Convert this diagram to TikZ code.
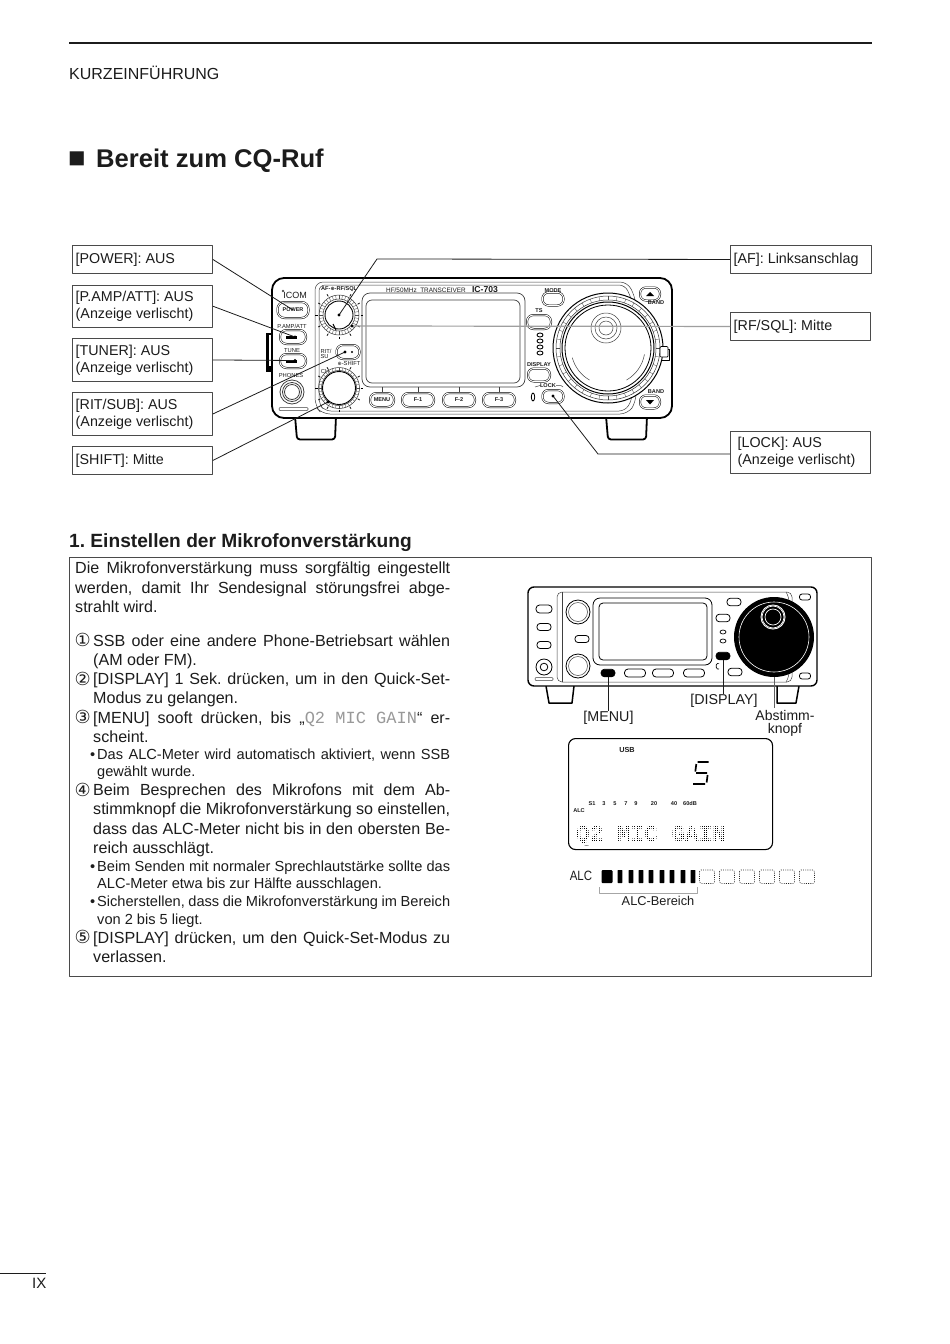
\documentclass[tikz,border=0pt]{standalone}
\usepackage{fontspec}
\setmainfont{Liberation Sans}
\setmonofont{Liberation Mono}
\newfontfamily\circfont{DejaVu Sans}
\usetikzlibrary{calc}
\definecolor{ink}{HTML}{1C1C1C}
\definecolor{boxln}{HTML}{4A4A4A}
\newcount\tlc
\frenchspacing
\newcommand{\fsz}[1]{\fontsize{#1}{#1}\selectfont}
\newcommand{\jl}[4][16.1]{\global\advance\tlc by 1 \node[txt] (t\the\tlc) at (#2,#3) {\fsz{#1}\frenchspacing\makebox[\dimexpr450pt-#2pt\relax][s]{#4}};}
\newcommand{\pl}[4][16.1]{\global\advance\tlc by 1 \node[txt] (t\the\tlc) at (#2,#3) {\fsz{#1}#4};}
\newcommand{\btn}[6][btn]{\node[#1,minimum width=#5pt,minimum height=#6pt,rounded corners={min(#6/2-0.5,7)*1pt}] (#2) at (#3,#4) {};}
\newcommand{\callout}[6]{\node[cbox,minimum width=#4pt,minimum height=#5pt,anchor=north west] (#1) at (#2,#3) {};
  \node[lab,anchor=west,align=left] (#1txt) at ($(#1.west)+(3.5,0)$) {#6};}
% knob ring: centre x,y; inner and outer radius
\newcommand{\kring}[4]{\foreach \b in {0,10,...,350} {\draw[black!70,line width=0.35pt] ($(#1,#2)+(\b:#3)$) -- ($(#1,#2)+(\b:#4)$);}
  \draw[black!80,line width=0.5pt] (#1,#2) circle (#3);\draw[black!80,line width=0.5pt] (#1,#2) circle (#4);}
\begin{document}
\begin{tikzpicture}[x=1pt,y=-1pt,line join=round,
  txt/.style={anchor=base west,inner sep=0pt,text=ink},
  lab/.style={inner sep=0pt,text=ink,font=\fsz{14.3},align=left},
  cbox/.style={draw=boxln,line width=0.9pt,fill=white,inner sep=0pt},
  tiny/.style={inner sep=0pt,text=ink,font=\bfseries\fsz{5.6}},
  btn/.style={draw=black,line width=0.5pt,double=white,double distance=1pt,fill=white,inner sep=0pt},
  sbtn/.style={draw=black,line width=0.8pt,fill=white,inner sep=0pt},
  bbtn/.style={draw=black,line width=0.6pt,fill=black,inner sep=0pt},
  lead/.style={draw=ink,line width=0.8pt},
  graylead/.style={draw=gray!75,line width=1.2pt},
  tick/.style={draw=black,line width=0.7pt},
  thin/.style={draw=black!75,line width=0.5pt},
  outln/.style={draw=black,line width=1.8pt,line join=round}]
\useasboundingbox (0,0) rectangle (950,1344);
\fill[white] (0,0) rectangle (950,1344);
% page head
\draw[line width=2.4pt,draw=ink] (69,43) -- (872,43);
\node[txt] (head) at (69,79.5) {\fsz{16}KURZEINFÜHRUNG};
\node[txt] (tsq) at (68,167) {\fsz{29}\bfseries ■};
\node[txt] (title) at (96,167) {\fsz{25.6}\bfseries Bereit zum CQ-Ruf};
% ===== transceiver =====
\fill[black] (266,333) rectangle (272,372);
\fill[white] (268.5,335) rectangle (272,366);
\draw[outln,fill=white,rounded corners=3pt] (295,416) -- (297,439.5) -- (335,439.5) -- (336,416);
\draw[outln,fill=white,rounded corners=3pt] (606,416) -- (608,439.5) -- (646,439.5) -- (647,416);
\draw[outln,fill=white,rounded corners=12pt] (272,278) rectangle (672,418);
\draw[thin,rounded corners=8pt] (315,282) -- (628,282) -- (636,300) -- (636,402) -- (628,414) -- (322,414) -- (315,406) -- cycle;
\draw[thin,rounded corners=6pt] (319,285) -- (625,285) -- (632,300) -- (632,400) -- (625,411) -- (325,411) -- (319,404) -- cycle;
% display
\draw[thin,rounded corners=8pt,line width=0.7pt] (362,293) rectangle (525,387);
\draw[thin,rounded corners=6pt,line width=0.7pt] (366,300) rectangle (520,383);
\draw[thin] (382,387) -- (382,393) (418,387) -- (418,393) (459,387) -- (459,393) (499,387) -- (499,393);
\node[tiny] (hfl) at (426,290) {\mdseries\fsz{6.4}HF/50MHz\ \ TRANSCEIVER};
\node[tiny] (icl) at (485,290) {\fsz{8.6}IC-703};
\node[tiny,anchor=west] (afl) at (321,289) {AF-{\circfont\fsz{5}⊕}-RF/SQL};
\node[inner sep=0pt,text=ink,font=\fsz{9}] (icom) at (295,295) {ICOM};
\draw[thin] (283,291) circle (1pt);
% left column
\btn{bpower}{293}{310}{31}{16}
\node[tiny,font=\bfseries\fsz{5.5}] (lpower) at (293,310) {POWER};
\node[tiny,font=\fsz{5.8}] (lpamp) at (292,326.5) {P.AMP/ATT};
\btn{bpamp}{293}{337}{26}{14}
\node[tiny,font=\fsz{5.8}] (ltune) at (292,351) {TUNE};
\btn{btune}{293}{361}{26}{14}
\node[tiny,font=\fsz{5.8}] (lphn) at (291,375) {PHONES};
\draw[thin,line width=0.8pt] (292,392) circle (12);
\draw[thin,line width=0.8pt] (292,392) circle (9.5);
\draw[thin,line width=0.8pt] (292,392) circle (7.5);
\draw[thin,rounded corners=1pt] (279,407.5) rectangle (308,410.5);
\fill[black] (286,335.5) rectangle (297,338.5);
\fill[black] (286,359.5) rectangle (297,362.5);
% AF / RF knob
\foreach \a in {-60,-30,...,240} {\draw[tick] ($(339,315)+(\a:21.5)$) -- ($(339,315)+(\a:24)$);}
\kring{339}{315}{16}{20}
\node[circle,draw=black,line width=0.9pt,fill=white,minimum size=28pt,inner sep=0pt] (kaf) at (339,315) {};
\draw[black,line width=0.9pt] (333,324) -- (336,330);
% RIT
\node[tiny,font=\fsz{5.8},align=left] (lrit) at (326,354) {RIT/\\SU};
\btn{brit}{348}{352}{23}{14}
\fill[black] (352,352) circle (1.2);
\node[tiny,font=\fsz{5.8}] (lch) at (325,371) {CH};
\node[tiny,font=\fsz{5.8}] (lshift) at (349,364) {{\circfont\fsz{5}⊕}-SHIFT};
% SHIFT knob
\foreach \a in {-60,-30,...,240} {\draw[tick] ($(339,388)+(\a:21.5)$) -- ($(339,388)+(\a:24)$);}
\kring{339}{388}{17.5}{20.5}
\node[circle,draw=black,line width=0.9pt,fill=white,minimum size=33pt,inner sep=0pt] (kshift) at (339,388) {};
% soft keys
\btn{bmenu}{382}{400}{24}{14}
\node[tiny] (lmenu) at (382,400) {MENU};
\btn{bf1}{418}{400}{32}{14}
\node[tiny] (lf1) at (418,400) {F-1};
\btn{bf2}{459}{400}{32}{14}
\node[tiny] (lf2) at (459,400) {F-2};
\btn{bf3}{499}{400}{32}{14}
\node[tiny] (lf3) at (499,400) {F-3};
% right column
\btn{bmode}{553}{299}{21}{13}
\node[tiny] (lmode) at (553,290.5) {MODE};
\btn{bts}{539}{322}{24}{14}
\node[tiny] (lts) at (539,311) {TS};
\foreach \y in {335,341,347,353} {\draw[black,line width=0.9pt] (540,\y) ellipse (3 and 2);}
\btn{bdisp}{539}{375}{22}{13}
\node[tiny] (ldisp) at (539,364.5) {DISPLAY};
\btn{block}{553}{396.5}{21}{13}
\node[tiny] (llock) at (548,386) {LOCK};
\draw[thin] (535,387) -- (540,385.5) -- (541,385.5) (556,385.5) -- (561,385.5) -- (563,387);
\draw[black,line width=0.8pt] (533,397) ellipse (1.7 and 4);
\btn{bup}{650}{294}{20}{13}
\fill[black] (646,296) -- (654,296) -- (650,292) -- cycle;
\btn{bdn}{650}{402}{20}{13}
\fill[black] (646,400) -- (654,400) -- (650,404.5) -- cycle;
\node[tiny] (lb1) at (656,303) {BAND};
\node[tiny] (lb2) at (656,392) {BAND};
% main dial
\draw[black,line width=0.7pt,fill=white] (657,349) rectangle (669,360);
\node[circle,draw=black,line width=1pt,fill=white,minimum size=110pt,inner sep=0pt] (kdial) at (608,348) {};
\kring{608}{348}{48}{52}
\draw[black,line width=1pt,fill=white] (608,348) circle (46);
\draw[black,line width=0.8pt] (608,348) circle (43);
\draw[thin] (608,348)++(10:37) arc (10:60:37);
\draw[thin] (608,348)++(120:37) arc (120:165:37);
\draw[thin] (606,328) circle (15);
\draw[thin] (606,328) circle (11);
\draw[thin] (606,328) circle (7);
\draw[black,line width=0.7pt,fill=white,rounded corners=1pt] (660,346.5) rectangle (668,357);
% callouts
\callout{cpower}{72}{245}{140}{28}{[POWER]: AUS}
\callout{cpamp}{72}{284.5}{140}{42.5}{[P.AMP/ATT]: AUS\\[3pt](Anzeige verlischt)}
\callout{ctuner}{72}{338}{140}{43}{[TUNER]: AUS\\[3pt](Anzeige verlischt)}
\callout{crit}{72}{392}{140}{43}{[RIT/SUB]: AUS\\[3pt](Anzeige verlischt)}
\callout{cshift}{72}{446}{140}{28}{[SHIFT]: Mitte}
\callout{caf}{730}{245}{141}{28}{[AF]: Linksanschlag}
\callout{crf}{730}{312}{140}{28}{[RF/SQL]: Mitte}
\callout{clock}{730}{431}{140}{42}{\ [LOCK]: AUS\\[3pt]\ (Anzeige verlischt)}
% connector end points
\coordinate (eaf) at (339,315);
\coordinate (epamp) at (295,337);
\coordinate (etune) at (295,360.5);
\coordinate (erit) at (345,352);
\coordinate (eshift) at (328,402);
\coordinate (erf) at (352,326);
\coordinate (elock) at (553,396);
\coordinate (bendaf) at (377,259);
\coordinate (bendlock) at (598,454);
\draw[lead] (cpower.east) -- (bpower.center);
\draw[lead] (cpamp.east) -- (epamp);
\draw[lead] (ctuner.east) -- (etune);
\draw[lead] (crit.east) -- (erit);
\draw[lead] (cshift.east) -- (eshift);
\draw[lead] (caf.west) -- (bendaf) -- (eaf);
\draw[graylead] (crf.west) -- (erf);
\draw[lead] (clock.west |- bendlock) -- (bendlock) -- (elock);
\foreach \p in {eaf,epamp,etune,erit,eshift,erf,elock} {\fill[black] (\p) circle (1.7);}
% ===== section 1 =====
\node[txt] (sub) at (69,547) {\fsz{19.15}\bfseries 1. Einstellen der Mikrofonverstärkung};
\node[draw=boxln,line width=0.9pt,minimum width=802pt,minimum height=419pt,anchor=north west,inner sep=0pt] (frame) at (69,557) {};
\jl{75}{573}{Die Mikrofonverstärkung muss sorgfältig eingestellt}
\jl{75}{593}{werden, damit Ihr Sendesignal störungsfrei abge-}
\pl{75}{612.5}{strahlt wird.}
\pl[18]{74.5}{646.5}{\circfont ①}
\jl{93}{646}{SSB oder eine andere Phone-Betriebsart wählen}
\pl{93}{665}{(AM oder FM).}
\pl[18]{74.5}{685}{\circfont ②}
\jl{93}{684.5}{[DISPLAY] 1 Sek. drücken, um in den Quick-Set-}
\pl{93}{703.5}{Modus zu gelangen.}
\pl[18]{74.5}{723.5}{\circfont ③}
\jl{93}{723}{[MENU] sooft drücken, bis „\mbox{\textcolor{black!40}{\ttfamily\fsz{17}Q2 MIC GAIN}}“ er-}
\pl{93}{742}{scheint.}
\pl[14.6]{90}{759}{•}
\jl[14.6]{97}{759}{Das ALC-Meter wird automatisch aktiviert, wenn SSB}
\pl[14.6]{97}{776.5}{gewählt wurde.}
\pl[18]{74.5}{796}{\circfont ④}
\jl{93}{795.5}{Beim Besprechen des Mikrofons mit dem Ab-}
\jl{93}{814.5}{stimmknopf die Mikrofonverstärkung so einstellen,}
\jl{93}{834.5}{dass das ALC-Meter nicht bis in den obersten Be-}
\pl{93}{853.5}{reich ausschlägt.}
\pl[14.6]{90}{871}{•}
\jl[14.6]{97}{871}{Beim Senden mit normaler Sprechlautstärke sollte das}
\pl[14.6]{97}{888.5}{ALC-Meter etwa bis zur Hälfte ausschlagen.}
\pl[14.6]{90}{906.5}{•}
\jl[14.6]{97}{906.5}{Sicherstellen, dass die Mikrofonverstärkung im Bereich}
\pl[14.6]{97}{924}{von 2 bis 5 liegt.}
\pl[18]{74.5}{943.5}{\circfont ⑤}
\jl{93}{943}{[DISPLAY] drücken, um den Quick-Set-Modus zu}
\pl{93}{962.5}{verlassen.}
% ===== small front view =====
\draw[outln,line width=1.5pt,fill=white] (546,686) -- (549,703) -- (572,703) -- (574,686);
\draw[outln,line width=1.5pt,fill=white] (777,686) -- (777,703) -- (796,703) -- (799,686);
\draw[outln,line width=1.4pt,fill=white,rounded corners=6pt] (528,587) rectangle (817,686);
\draw[thin,rounded corners=5pt] (557,592) rectangle (792,682);
\draw[thin,rounded corners=4pt] (562,592) -- (562,682);
\draw[thin,rounded corners=5pt] (786,592) -- (789,597) -- (789,677) -- (786,682);
\draw[black,line width=0.8pt,rounded corners=7pt] (593,598) rectangle (712,665);
\draw[black,line width=0.8pt,rounded corners=4pt] (599,603) rectangle (707,660);
\foreach \n/\x/\y in {a/578/612,b/578/666} {
  \node[circle,draw=black,line width=0.8pt,minimum size=24pt,inner sep=0pt,fill=white] (sk\n) at (\x,\y) {};
  \draw[thin] (\x,\y) circle (9.5);}
\btn[sbtn]{sb1}{544}{609}{16}{8}
\btn[sbtn]{sb2}{544}{627}{14}{7}
\btn[sbtn]{sb3}{544}{645}{14}{7}
\btn[sbtn]{sb4}{582}{639}{14}{7}
\draw[black,line width=0.8pt] (544,667) circle (8);
\draw[black,line width=0.8pt] (544,667) circle (3.8);
\draw[thin,rounded corners=1pt] (535,677.5) rectangle (553,680.5);
\btn[bbtn]{smenu}{608}{673}{14}{7.5}
\btn[sbtn]{sf1}{635}{673}{21}{8}
\btn[sbtn]{sf2}{663}{673}{21}{8}
\btn[sbtn]{sf3}{694}{673}{21}{8}
\btn[bbtn]{sdisp}{723}{656}{14}{7.5}
\btn[sbtn]{sm1}{734}{602}{14}{7.5}
\btn[sbtn]{sm2}{723}{618}{14}{7.5}
\btn[sbtn]{sm3}{735}{672}{14}{7.5}
\draw[black,line width=0.7pt] (723,632) ellipse (3 and 2);
\draw[black,line width=0.7pt] (723,641) ellipse (3 and 2);
\draw[black,line width=0.7pt] (719,669) arc (70:290:2.2 and 3);
\btn[sbtn]{sb5}{805}{597}{11}{6}
\btn[sbtn]{sb6}{805}{676}{11}{6}
\node[circle,fill=black,minimum size=80pt,inner sep=0pt] (sdial) at (774,637) {};
\draw[white,line width=0.6pt] (774,637) circle (35);
\fill[white] (773,617) circle (12.5);
\fill[black] (773,617) circle (11.5);
\draw[white,line width=0.7pt] (773,617) circle (8);
\draw[white,line width=0.7pt] (773,617) circle (11);
\node[lab] (lmn) at (608.5,718) {[MENU]};
\node[lab] (lds) at (724,701) {[DISPLAY]};
\node[lab,align=center,font=\fsz{14}] (lab) at (785,723.5) {Abstimm-\\[-1pt]knopf};
\coordinate (eabs) at (774,708);
\draw[draw=ink,line width=0.9pt] (smenu.south) -- (lmn.north -| smenu.south);
\draw[draw=ink,line width=0.9pt] (sdisp.south) -- (lds.north -| sdisp.south);
\draw[draw=ink!70,line width=0.9pt] (sdial.south) -- (eabs);
% ===== LCD =====
\node[draw=black,line width=1.1pt,rounded corners=7pt,minimum width=204pt,minimum height=111pt,anchor=north west,inner sep=0pt] (lcd) at (568,738) {};
\node[tiny,font=\bfseries\fsz{7.3}] (lusb) at (627,750) {USB};
\draw[black,line width=1.7pt,line cap=butt] (697.5,762) -- (708.5,762) (696.3,764) -- (695.3,771.5) (696,773) -- (707,773) (707.6,775) -- (706.6,782.5) (693,784) -- (705,784);
\foreach \t/\x in {S1/592,3/604,5/615,7/626,9/636,20/654,40/674,60dB/690} {\node[tiny,font=\bfseries\fsz{5.6},anchor=base] (m\t) at (\x,805) {\t};}
\node[tiny,font=\bfseries\fsz{5.6}] (lalc) at (579,811) {ALC};
\node[txt,text=black] (dotm) at (576,841.5) {\ttfamily\bfseries\fsz{22.7}Q2 MIC GAIN};
\foreach \x in {576,577.9,...,730} {\draw[white,line width=0.8pt] (\x,822) -- (\x,845);}
\foreach \y in {822,823.9,...,846} {\draw[white,line width=0.8pt] (574,\y) -- (730,\y);}
% ===== ALC meter =====
\node[inner sep=0pt,text=ink,font=\fsz{13.5},xscale=0.85] (lmeter) at (581,876) {ALC};
\fill[black,rounded corners=1pt] (601.5,870) rectangle (612.5,883);
\foreach \x in {620,631,641,651,662,672,683,693} {\fill[black,rounded corners=0.6pt] (\x-2.4,870) rectangle (\x+2.4,883);}
\foreach \x in {707,727,747,767,787,807} {\draw[black!85,line width=0.6pt,dash pattern=on 0.9pt off 1.3pt,rounded corners=1.5pt] (\x-7.5,870) rectangle (\x+7.5,883.5);}
\draw[draw=gray!70,line width=1pt] (599,887) -- (599,893) -- (697,893) -- (697,887);
\node[lab,font=\fsz{12.8}] (lbereich) at (658,900.5) {ALC-Bereich};
% ===== page number =====
\draw[draw=ink,line width=0.9pt] (0,1273.5) -- (46,1273.5);
\node[txt] (pg) at (32,1288) {\fsz{15}IX};
\end{tikzpicture}
\end{document}
